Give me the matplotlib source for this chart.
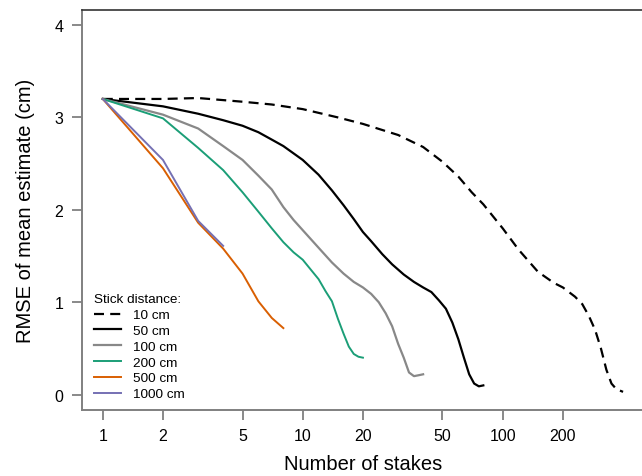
import matplotlib
matplotlib.use("Agg")
import matplotlib.pyplot as plt
from matplotlib.ticker import NullLocator

plt.rcParams['font.family'] = ['Liberation Sans', 'DejaVu Sans']

# RMSE of mean estimate (cm) vs number of stakes, one series per stick distance
n_10 = [1, 2, 3, 5, 7, 10, 15, 20, 30, 40, 50, 60, 70, 80, 100, 120, 150, 180,
        200, 230, 250, 270, 290, 310, 330, 350, 370, 400]
rmse_10 = [3.2, 3.2, 3.21, 3.17, 3.14, 3.09, 3.0, 2.93, 2.81, 2.68, 2.52, 2.36,
           2.19, 2.06, 1.80, 1.57, 1.33, 1.21, 1.16, 1.06, 0.98, 0.85, 0.70,
           0.50, 0.27, 0.12, 0.06, 0.03]

n_50 = [1, 2, 3, 4, 5, 6, 7, 8, 10, 12, 14, 16, 18, 20, 22, 25, 28, 32, 36, 40,
        44, 48, 52, 56, 60, 64, 68, 72, 76, 80]
rmse_50 = [3.2, 3.12, 3.04, 2.97, 2.91, 2.84, 2.76, 2.69, 2.54, 2.38, 2.21, 2.05,
           1.90, 1.76, 1.66, 1.52, 1.41, 1.30, 1.22, 1.16, 1.11, 1.02, 0.93,
           0.78, 0.60, 0.40, 0.22, 0.12, 0.09, 0.10]

n_100 = [1, 2, 3, 4, 5, 6, 7, 8, 9, 10, 12, 14, 16, 18, 20, 22, 24, 26, 28, 30,
         32, 34, 36, 38, 40]
rmse_100 = [3.2, 3.03, 2.88, 2.69, 2.54, 2.37, 2.22, 2.03, 1.89, 1.78, 1.59,
            1.43, 1.31, 1.22, 1.16, 1.09, 1.00, 0.88, 0.74, 0.55, 0.40, 0.24,
            0.20, 0.21, 0.22]

n_200 = [1, 2, 3, 4, 5, 6, 7, 8, 9, 10, 11, 12, 13, 14, 15, 16, 17, 18, 19, 20]
rmse_200 = [3.2, 2.99, 2.67, 2.43, 2.19, 1.98, 1.80, 1.65, 1.54, 1.46, 1.35,
            1.25, 1.12, 1.01, 0.82, 0.66, 0.52, 0.44, 0.41, 0.40]

n_500 = [1, 2, 3, 4, 5, 6, 7, 8]
rmse_500 = [3.2, 2.45, 1.86, 1.58, 1.31, 1.01, 0.83, 0.72]

n_1000 = [1, 2, 3, 4]
rmse_1000 = [3.2, 2.54, 1.88, 1.61]

labels = ["10 cm", "50 cm", "100 cm", "200 cm", "500 cm", "1000 cm"]
xtick_vals = [1, 2, 5, 10, 20, 50, 100, 200]
ytick_vals = [0, 1, 2, 3, 4]

fig = plt.figure(figsize=(6.42, 4.77), dpi=100)
ax = fig.add_axes([0.1277, 0.139, 0.8746, 0.838])

ax.plot(n_10, rmse_10, color="black", lw=1.6, dashes=(4.5, 2.8), label=labels[0])
ax.plot(n_50, rmse_50, color="black", lw=1.6, label=labels[1])
ax.plot(n_100, rmse_100, color="#888888", lw=1.6, label=labels[2])
ax.plot(n_200, rmse_200, color="#1B9E77", lw=1.4, label=labels[3])
ax.plot(n_500, rmse_500, color="#D95F02", lw=1.4, label=labels[4])
ax.plot(n_1000, rmse_1000, color="#7570B3", lw=1.4, label=labels[5])

ax.set_xscale("log")
ax.set_xlim(0.787, 506)
ax.set_ylim(-0.163, 4.163)
ax.set_xticks(xtick_vals)
ax.set_xticklabels([str(v) for v in xtick_vals])
ax.xaxis.set_minor_locator(NullLocator())
ax.set_yticks(ytick_vals)

for s in ["left", "bottom"]:
    ax.spines[s].set_color("#808080")
    ax.spines[s].set_linewidth(1.4)
ax.spines["top"].set_color("#333333")
ax.spines["top"].set_linewidth(1.2)
ax.tick_params(axis="both", direction="out", length=7.5, width=1.3,
               color="#808080", labelsize=11.5, pad=6)
ax.tick_params(axis="x", pad=5.5)

ax.set_xlabel("Number of stakes", fontsize=14.5, labelpad=8)
ax.set_ylabel("RMSE of mean estimate (cm)", fontsize=14.5, labelpad=14)

leg = ax.legend(loc="lower left", bbox_to_anchor=(0.005, 0.0), frameon=False,
                title="Stick distance:", fontsize=9.7, title_fontsize=9.7,
                handlelength=2.0, handletextpad=0.85, labelspacing=0.25,
                borderaxespad=0.3)
leg._legend_box.align = "left"

fig.savefig("out.png", dpi=100)
